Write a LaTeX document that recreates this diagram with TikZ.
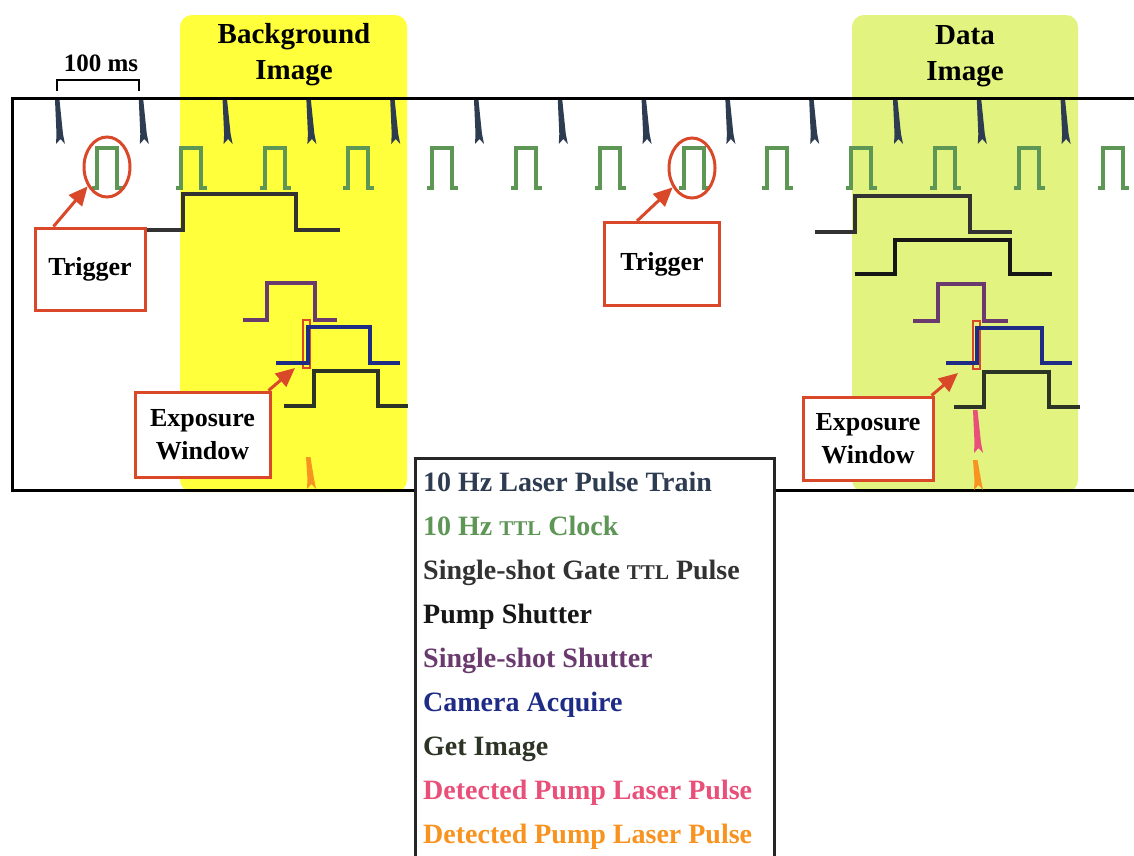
\documentclass[tikz,border=0pt]{standalone}
\usepackage{fontspec}
\setmainfont{Liberation Serif}
\usetikzlibrary{arrows.meta,shapes.geometric,calc}

\definecolor{bgyellow}{RGB}{255,255,60}
\definecolor{datyellow}{RGB}{226,243,128}
\definecolor{laserblue}{RGB}{46,60,82}
\definecolor{ttlgreen}{RGB}{94,150,86}
\definecolor{gategray}{RGB}{50,50,50}
\definecolor{pumpblack}{RGB}{22,22,22}
\definecolor{shutpurple}{RGB}{106,58,110}
\definecolor{camblue}{RGB}{30,44,134}
\definecolor{getolive}{RGB}{44,52,38}
\definecolor{detpink}{RGB}{232,80,122}
\definecolor{detorange}{RGB}{247,147,30}
\definecolor{notered}{RGB}{218,72,42}

% laser spike: x, top, bottom, colour
\newcommand{\spike}[4]{%
  \fill[#4] ({#1-2},#2) -- ({#1+2.5},#2) -- ({#1+6},{#3-10}) -- ({#1+8},#3)
    -- ({#1+3.5},{#3-5}) -- ({#1-1},#3) -- ({#1-0.5},{#3-10}) -- cycle;}
\newcommand{\smallttl}{{\fontsize{21}{21}\selectfont TTL}}

\begin{document}
\begin{tikzpicture}[x=1pt,y=-1pt,
  wave/.style={line width=4pt},
  notebox/.style={draw=notered, line width=3pt, fill=white, align=center,
    font=\fontsize{26}{33}\selectfont\bfseries, inner sep=0pt},
  ring/.style={ellipse, draw=notered, line width=3pt, inner sep=0pt,
    minimum width=46pt, minimum height=60pt},
  window/.style={draw=notered, line width=2.5pt, inner sep=0pt,
    minimum width=7pt, minimum height=48pt},
  notearrow/.style={notered, line width=3pt, -{Triangle[length=19pt,width=17pt]}},
  head/.style={align=center, font=\fontsize{29}{36}\selectfont\bfseries},
  legtext/.style={anchor=base west, inner sep=0pt, font=\fontsize{28}{28}\selectfont\bfseries}]
\useasboundingbox (0,0) rectangle (1134,855);

% shaded image windows
\fill[bgyellow, rounded corners=12pt] (180,15) rectangle (407,492);
\fill[datyellow, rounded corners=12pt] (852,15) rectangle (1078,492);
\node[head] (bgLabel) at (294,55) {Background\\Image};
\node[head] (datLabel) at (965,56) {Data\\Image};

% frame
\draw[line width=3pt] (1140,98) -- (12,98) -- (12,490) -- (1140,490);

% 100 ms scale
\draw[line width=2.5pt] (57,91) -- (57,80) -- (139,80) -- (139,91);
\node[font=\fontsize{25}{25}\selectfont\bfseries] (msLabel) at (101,63) {100 ms};

% 10 Hz laser pulses
\foreach \k in {0,...,12}
  \spike{57+83.8*\k}{100}{144}{laserblue};

% 10 Hz TTL clock
\foreach \k in {0,...,12} {
  \pgfmathsetmacro\r{97+83.8*\k}
  \draw[wave, ttlgreen] (\r-5,188) -- ++(5,0) -- ++(0,-40) -- ++(20,0) -- ++(0,40) -- ++(6,0);
}

% background shot
\node[window] (winBG) at (306.5,344) {};
\draw[wave, gategray] (147,230) -- (183,230) -- (183,194) -- (296,194) -- (296,230) -- (340,230);
\draw[wave, shutpurple] (243,320) -- (267,320) -- (267,283) -- (315,283) -- (315,320) -- (337,320);
\draw[wave, camblue] (276,363) -- (308,363) -- (308,327) -- (370,327) -- (370,363) -- (400,363);
\draw[wave, getolive] (284,406) -- (314,406) -- (314,371) -- (378,371) -- (378,406) -- (408,406);
\spike{308}{457}{489}{detorange}

% data shot
\node[window] (winDat) at (976.5,345) {};
\draw[wave, gategray] (815,232) -- (855,232) -- (855,196) -- (970,196) -- (970,232) -- (1012,232);
\draw[wave, pumpblack] (855,274) -- (895,274) -- (895,240) -- (1010,240) -- (1010,274) -- (1052,274);
\draw[wave, shutpurple] (913,321) -- (938,321) -- (938,284) -- (984,284) -- (984,321) -- (1008,321);
\draw[wave, camblue] (946,363) -- (977,363) -- (977,328) -- (1042,328) -- (1042,363) -- (1072,363);
\draw[wave, getolive] (954,407) -- (984,407) -- (984,372) -- (1049,372) -- (1049,407) -- (1080,407);
\spike{975}{410}{453}{detpink}
\spike{975}{460}{490}{detorange}

% annotations
\node[ring] (ringBG) at (107,167) {};
\node[ring] (ringDat) at (692,168) {};
\node[notebox, minimum width=110pt, minimum height=82pt] (trigBG) at (90,269) {Trigger};
\node[notebox, minimum width=115pt, minimum height=83pt] (trigDat) at (662,264) {Trigger};
\node[notebox, minimum width=135pt, minimum height=85pt] (expBG) at (202.5,434.5) {Exposure\\Window};
\node[notebox, minimum width=130pt, minimum height=83pt] (expDat) at (868,438.5) {Exposure\\Window};
\coordinate (expBGtip) at (295,368);
\coordinate (expDattip) at (958,373);
\draw[notearrow] ([xshift=20pt]trigBG.north west) -- (ringBG.225);
\draw[notearrow] ([xshift=34pt]trigDat.north west) -- (ringDat.225);
\draw[notearrow] ([xshift=-3pt]expBG.north east) -- (expBGtip);
\draw[notearrow] ([xshift=-3pt]expDat.north east) -- (expDattip);

% legend
\draw[line width=3pt, draw=black!85, fill=white] (415,458) rectangle (774,880);
\foreach \txt/\col [count=\i from 0] in {
    10 Hz Laser Pulse Train/laserblue,
    10 Hz \smallttl{} Clock/ttlgreen,
    Single-shot Gate \smallttl{} Pulse/gategray,
    Pump Shutter/pumpblack,
    Single-shot Shutter/shutpurple,
    Camera Acquire/camblue,
    Get Image/getolive,
    Detected Pump Laser Pulse/detpink,
    Detected Pump Laser Pulse/detorange}
  \node[legtext, text=\col] (leg\i) at (423,{491+44*\i}) {\txt};
\end{tikzpicture}
\end{document}
